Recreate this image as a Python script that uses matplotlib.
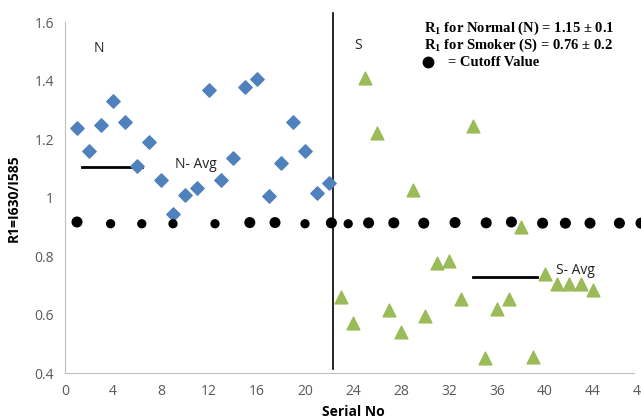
import matplotlib.pyplot as plt
import numpy as np

# normal (N) samples
n_serial = list(range(1, 23))
n_ratio = [1.24, 1.16, 1.25, 1.33, 1.26, 1.11, 1.19, 1.06, 0.945, 1.01, 1.035,
           1.37, 1.06, 1.135, 1.38, 1.405, 1.005, 1.12, 1.26, 1.16, 1.015, 1.05]

# smoker (S) samples
s_serial = list(range(23, 45))
s_ratio = [0.66, 0.57, 1.41, 1.22, 0.615, 0.54, 1.025, 0.595, 0.775, 0.785, 0.655,
           1.245, 0.45, 0.62, 0.655, 0.90, 0.455, 0.74, 0.705, 0.705, 0.705, 0.685]

# cutoff dots
cut_x = [1, 3.8, 6.4, 9, 12.5, 15.4, 17.5, 20, 22.2, 23.6, 25.3, 27.4, 29.9,
         32.5, 35.1, 37.2, 39.8, 41.7, 43.75, 46.2, 48]
cut_y = [0.917, 0.911, 0.911, 0.911, 0.911, 0.915, 0.915, 0.911, 0.914, 0.911, 0.914,
         0.914, 0.913, 0.915, 0.914, 0.917, 0.913, 0.913, 0.913, 0.913, 0.913]
cut_big = [1, 0, 0, 0, 0, 1, 1, 0, 1, 0, 1, 1, 1, 1, 1, 1, 1, 1, 1, 1, 1]

n_avg_x = [1.4, 6.4]
n_avg_y = 1.104
s_avg_x = [34.0, 39.3]
s_avg_y = 0.73
divider_x = 22.35

fig = plt.figure(figsize=(6.41, 4.19), dpi=100)
ax = fig.add_axes([65/641, 46/419, 576/641, 350.5/419])

ax.scatter(n_serial, n_ratio, marker='D', s=46, color='#4f81bd', zorder=3)
ax.scatter(s_serial, s_ratio, marker='^', s=85, color='#9bbb59', zorder=3)
sizes = [48 if b else 32 for b in cut_big]
ax.scatter(cut_x, cut_y, s=sizes, color='black', zorder=4, clip_on=False)

ax.plot(n_avg_x, [n_avg_y] * 2, color='black', lw=2, zorder=2)
ax.plot(s_avg_x, [s_avg_y] * 2, color='black', lw=2, zorder=2)
ax.plot([divider_x] * 2, [0.413, 1.634], color='black', lw=1.2, clip_on=False, zorder=2)

txt = dict(fontsize=10, color='#222222', family='Open Sans')
ax.text(2.8, 1.51, 'N', ha='center', va='center', **txt)
ax.text(9.2, 1.114, 'N- Avg', ha='left', va='center', **txt)
ax.text(24.4, 1.52, 'S', ha='center', va='center', **txt)
ax.text(40.9, 0.752, 'S- Avg', ha='left', va='center', **txt)

leg = dict(fontsize=10.5, fontweight='bold', family='Liberation Serif', color='black',
           transform=fig.transFigure, va='center', ha='left')
fig.text(424/641, 1 - 28/419, 'R$_\\mathregular{1}$ for Normal (N) = 1.15 ± 0.1', **leg)
fig.text(424/641, 1 - 45/419, 'R$_\\mathregular{1}$ for Smoker (S) = 0.76 ± 0.2', **leg)
fig.text(448/641, 1 - 62/419, '= Cutoff Value', **leg)
fig.lines.append(plt.Line2D([428/641], [1 - 62/419], marker='o', ms=7.5, color='black',
                            transform=fig.transFigure))

ax.set_xlim(0, 48)
ax.set_ylim(0.4, 1.6)
ax.set_xticks(np.arange(0, 49, 4))
ax.set_yticks([0.4, 0.6, 0.8, 1.0, 1.2, 1.4, 1.6])
ax.set_yticklabels(['0.4', '0.6', '0.8', '1', '1.2', '1.4', '1.6'])
ax.tick_params(length=0, labelsize=10, labelcolor='#595959', pad=8)
for lab in ax.get_xticklabels() + ax.get_yticklabels():
    lab.set_family('Open Sans')

for s in ['top', 'right']:
    ax.spines[s].set_visible(False)
for s in ['left', 'bottom']:
    ax.spines[s].set_color('#bfbfbf')
ax.spines['bottom'].set_bounds(0, 47.4)

ax.set_xlabel('Serial No', fontsize=10, fontweight='bold', family='Open Sans', labelpad=4)
ax.set_ylabel('R1=I630/I585', fontsize=10, fontweight='bold', family='Open Sans', labelpad=10)

fig.savefig('out.png', dpi=100)
